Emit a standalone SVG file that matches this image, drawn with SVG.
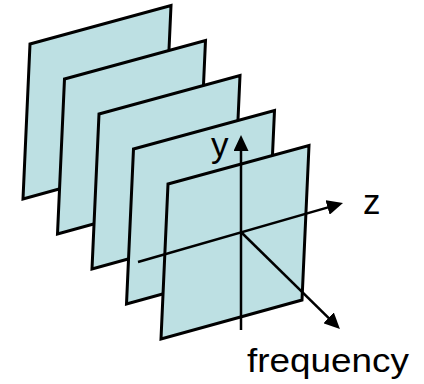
<svg xmlns="http://www.w3.org/2000/svg" xmlns:xlink="http://www.w3.org/1999/xlink" width="424" height="384" viewBox="0 0 424 384">
  <style>
    .plane { fill: #bde0e3; stroke: #000; stroke-width: 3; stroke-linejoin: miter; }
    .axis { fill: none; stroke: #000; stroke-width: 2.5; marker-end: url(#arrow); }
    .label { font-family: "Liberation Sans", Arial, sans-serif; font-size: 35px; fill: #000; }
  </style>
  <defs>
    <polygon id="planeShape" class="plane" points="0,0 141,-38.5 134,116 -7,155"/>
    <marker id="arrow" markerUnits="userSpaceOnUse" markerWidth="16" markerHeight="15" viewBox="0 0 16 15" refX="5" refY="7.5" orient="auto">
      <path d="M0,0 L16,7.5 L0,15 z" fill="#000"/>
    </marker>
  </defs>
  <g id="plane1"><use xlink:href="#planeShape" href="#planeShape" transform="translate(30,44)"/></g>
  <g id="plane2"><use xlink:href="#planeShape" href="#planeShape" transform="translate(64.5,79)"/></g>
  <g id="plane3"><use xlink:href="#planeShape" href="#planeShape" transform="translate(99,114)"/></g>
  <g id="plane4"><use xlink:href="#planeShape" href="#planeShape" transform="translate(133.5,149)"/></g>
  <g id="plane5"><use xlink:href="#planeShape" href="#planeShape" transform="translate(168,184)"/></g>
  <g id="connectors">
    <line class="axis" x1="241" y1="330" x2="241" y2="146"/>
    <line class="axis" x1="138" y1="262" x2="332.4" y2="206.1"/>
    <line class="axis" x1="242" y1="233" x2="332.1" y2="321.3"/>
  </g>
  <g id="labels">
    <text class="label" x="211" y="157">y</text>
    <text class="label" x="363" y="214">z</text>
    <text class="label" x="247" y="372" style="font-size:33px" textLength="162" lengthAdjust="spacingAndGlyphs">frequency</text>
  </g>
</svg>
